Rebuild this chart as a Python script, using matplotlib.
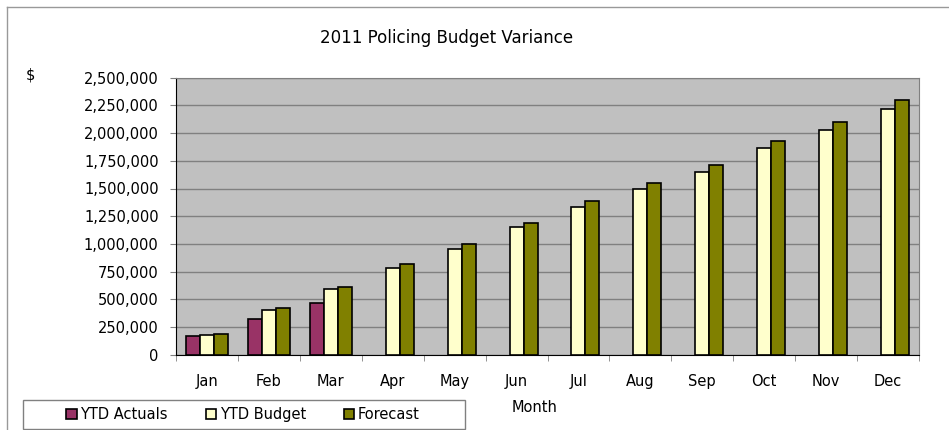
import numpy as np
import matplotlib.pyplot as plt
from matplotlib.ticker import FuncFormatter, FixedLocator
from matplotlib.lines import Line2D
from matplotlib.patches import Rectangle

months = ["Jan", "Feb", "Mar", "Apr", "May", "Jun",
          "Jul", "Aug", "Sep", "Oct", "Nov", "Dec"]
nan = np.nan
ytd_actuals = [172000, 318000, 470000, nan, nan, nan, nan, nan, nan, nan, nan, nan]
ytd_budget = [178000, 403000, 596000, 785000, 957000, 1150000,
              1333000, 1495000, 1652000, 1866000, 2025000, 2218000]
forecast = [185000, 418000, 614000, 816000, 996000, 1189000,
            1387000, 1550000, 1712000, 1932000, 2103000, 2299000]

plt.rcParams['font.family'] = ['DejaVu Sans']

fig = plt.figure(figsize=(9.49, 4.3), dpi=100)
ax = fig.add_axes([176/949, 1 - 354.7/430, 743/949, 277/430])

x = np.arange(len(months))
w = 0.226
ax.bar(x - w, ytd_actuals, w, color="#993366", edgecolor="black", lw=1.2, zorder=3)
ax.bar(x, ytd_budget, w, color="#FFFFCC", edgecolor="black", lw=1.2, zorder=3)
ax.bar(x + w, forecast, w, color="#808000", edgecolor="black", lw=1.2, zorder=3)

ax.set_facecolor("#C0C0C0")
ax.set_xlim(-0.5, 11.5)
ax.set_ylim(0, 2500000)
ax.set_yticks(np.arange(0, 2500001, 250000))
ax.yaxis.set_major_formatter(FuncFormatter(lambda v, p: f"{int(v):,}"))
ax.grid(axis="y", color="#808080", lw=1, zorder=1)

ax.set_xticks(x)
ax.set_xticklabels(months)
ax.tick_params(axis="x", length=0, pad=14, labelsize=10.5)
ax.xaxis.set_minor_locator(FixedLocator(np.arange(-0.5, 12, 1)))
ax.tick_params(axis="x", which="minor", length=4, color="#808080")
ax.tick_params(axis="y", length=4.5, labelsize=10.5, pad=8, color="#808080")

for s in ["top", "right"]:
    ax.spines[s].set_color("#808080")
for s in ["left", "bottom"]:
    ax.spines[s].set_color("black")

fig.text(447/949, 1 - 38/430, "2011 Policing Budget Variance",
         ha="center", va="center", fontsize=12)
fig.text(30/949, 1 - 75/430, "$", ha="center", va="center", fontsize=10.5)
fig.text(535/949, 1 - 408/430, "Month", ha="center", va="center", fontsize=10.5)

# outer chart frame
fig.add_artist(Line2D([7/949, 7/949], [0, 1 - 7/430], color="#999999", lw=1))
fig.add_artist(Line2D([7/949, 1], [1 - 7/430, 1 - 7/430], color="#999999", lw=1))

# legend box
fig.add_artist(Rectangle((23/949, 1 - 429/430), 442/949, 29/430,
                         transform=fig.transFigure, fc="white",
                         ec="#808080", lw=1))
handles = [plt.Rectangle((0, 0), 1, 1, fc=c, ec="black", lw=1.2)
           for c in ["#993366", "#FFFFCC", "#808000"]]
leg = fig.legend(handles, ["YTD Actuals", "YTD Budget", "Forecast"],
                 ncol=3, loc="center", bbox_to_anchor=(243/949, 1 - 414.5/430),
                 frameon=False, fontsize=10.5, handlelength=0.7,
                 handleheight=0.7, handletextpad=0.25, columnspacing=2.6,
                 borderpad=0.3, borderaxespad=0)

fig.savefig("out.png", dpi=100)
